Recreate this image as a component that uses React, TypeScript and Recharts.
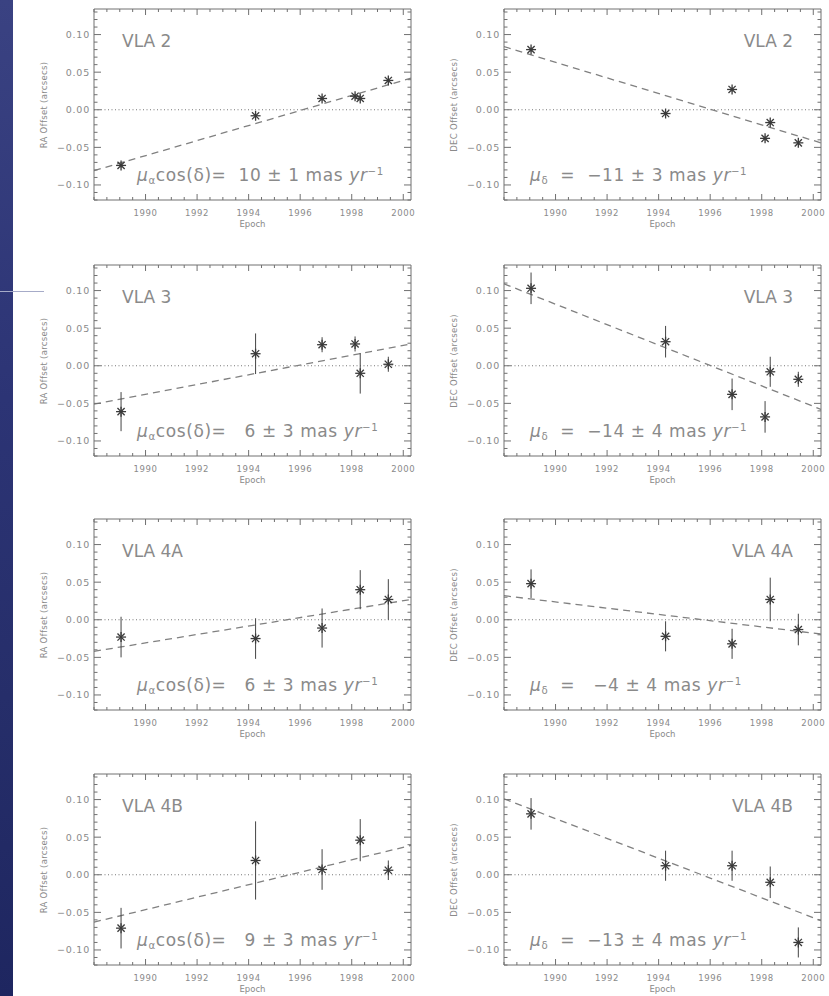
import React from "react";
import { ComposedChart, XAxis, YAxis, Scatter, ErrorBar, Line, ReferenceLine } from "recharts";

// epochs of the VLA observations (years)
const epochs6 = [1989.05, 1994.27, 1996.85, 1998.13, 1998.33, 1999.42];
const epochs5 = [1989.05, 1994.27, 1996.85, 1998.33, 1999.42];

const sources = ["VLA 2", "VLA 3", "VLA 4A", "VLA 4B"];

// RA offsets (arcsec) and 1-sigma errors
const vla2Ra = [-0.074, -0.008, 0.015, 0.018, 0.015, 0.039];
const vla2RaErr = [0.003, 0.003, 0.003, 0.003, 0.003, 0.003];
const vla3Ra = [-0.061, 0.016, 0.028, 0.029, -0.01, 0.002];
const vla3RaErr = [0.026, 0.027, 0.01, 0.01, 0.027, 0.01];
const vla4aRa = [-0.023, -0.025, -0.011, 0.04, 0.027];
const vla4aRaErr = [0.027, 0.027, 0.026, 0.026, 0.027];
const vla4bRa = [-0.071, 0.019, 0.007, 0.046, 0.006];
const vla4bRaErr = [0.027, 0.052, 0.027, 0.028, 0.013];

// DEC offsets (arcsec) and 1-sigma errors
const vla2Dec = [0.08, -0.005, 0.027, -0.038, -0.017, -0.044];
const vla2DecErr = [0.003, 0.003, 0.003, 0.003, 0.003, 0.003];
const vla3Dec = [0.103, 0.032, -0.038, -0.068, -0.008, -0.018];
const vla3DecErr = [0.021, 0.021, 0.021, 0.021, 0.02, 0.01];
const vla4aDec = [0.048, -0.022, -0.032, 0.027, -0.013];
const vla4aDecErr = [0.019, 0.02, 0.02, 0.029, 0.021];
const vla4bDec = [0.081, 0.012, 0.012, -0.01, -0.09];
const vla4bDecErr = [0.021, 0.02, 0.02, 0.021, 0.02];

// fitted proper-motion lines, value at 1988.0 and 2000.3
const fitEpochs = [1988.0, 2000.3];
const fitRa = [[-0.081, 0.042], [-0.051, 0.029], [-0.042, 0.027], [-0.063, 0.039]];
const fitDec = [[0.084, -0.044], [0.109, -0.058], [0.032, -0.019], [0.101, -0.061]];

// proper motions (mas/yr) as printed
const muRa = ["10 ± 1", " 6 ± 3", " 6 ± 3", " 9 ± 3"];
const muDec = ["−11 ± 3", "−14 ± 4", " −4 ± 4", "−13 ± 4"];

// axes
const xDomain = [1988.0, 2000.3];
const yDomain = [-0.12, 0.134];
const xMajor = [1990, 1992, 1994, 1996, 1998, 2000];
const xLabels = ["1990", "1992", "1994", "1996", "1998", "2000"];
const yMajor = [-0.1, -0.05, 0, 0.05, 0.1];
const yLabels = ["−0.10", "−0.05", "0.00", "0.05", "0.10"];

const range = (a: number, b: number, s: number) => {
  const out: number[] = [];
  for (let v = a; v <= b + 1e-9; v += s) out.push(Math.round(v * 1000) / 1000);
  return out;
};
const xMinor = range(1988, 2000, 0.5);
const yMinor = range(-0.12, 0.13, 0.01);

const raSeries = [
  { ep: epochs6, v: vla2Ra, e: vla2RaErr },
  { ep: epochs6, v: vla3Ra, e: vla3RaErr },
  { ep: epochs5, v: vla4aRa, e: vla4aRaErr },
  { ep: epochs5, v: vla4bRa, e: vla4bRaErr },
];
const decSeries = [
  { ep: epochs6, v: vla2Dec, e: vla2DecErr },
  { ep: epochs6, v: vla3Dec, e: vla3DecErr },
  { ep: epochs5, v: vla4aDec, e: vla4aDecErr },
  { ep: epochs5, v: vla4bDec, e: vla4bDecErr },
];

const FONT = "'DejaVu Sans', sans-serif";
const AXIS = "#707070";
const TXT = "#8a8a8a";

const BOX_W = 317;
const BOX_H = 191;
const AXW = 70;
const PADT = 10;
const PADR = 6;
const XAH = 40;
const colLeft = [94, 504];
const rowTop = [9, 265, 519, 774];

const majorIndex = (v: number, majors: number[]) =>
  majors.findIndex((m) => Math.abs(m - v) < 1e-6);

const BottomTick = (p: any) => {
  const { x, y, payload } = p;
  const i = majorIndex(payload.value, xMajor);
  return (
    <g>
      <line x1={x} y1={y} x2={x} y2={y - (i >= 0 ? 6 : 3)} stroke={AXIS} />
      {i >= 0 && (
        <text x={x} y={y + 16} textAnchor="middle" fontSize={8.5} fill={TXT} fontFamily={FONT} letterSpacing={0.6}>
          {xLabels[i]}
        </text>
      )}
    </g>
  );
};
const TopTick = (p: any) => {
  const { x, y, payload } = p;
  const i = majorIndex(payload.value, xMajor);
  return <line x1={x} y1={y} x2={x} y2={y + (i >= 0 ? 6 : 3)} stroke={AXIS} />;
};
const LeftTick = (p: any) => {
  const { x, y, payload } = p;
  const i = majorIndex(payload.value, yMajor);
  return (
    <g>
      <line x1={x} y1={y} x2={x + (i >= 0 ? 7 : 3.5)} y2={y} stroke={AXIS} />
      {i >= 0 && (
        <text x={x - 4} y={y + 3.5} textAnchor="end" fontSize={9.5} fill={TXT} fontFamily={FONT} letterSpacing={0.8}>
          {yLabels[i]}
        </text>
      )}
    </g>
  );
};
const RightTick = (p: any) => {
  const { x, y, payload } = p;
  const i = majorIndex(payload.value, yMajor);
  return <line x1={x} y1={y} x2={x - (i >= 0 ? 7 : 3.5)} y2={y} stroke={AXIS} />;
};

const Star = (p: any) => {
  const { cx, cy } = p;
  const r = 5;
  const d = r * 0.72;
  return (
    <g stroke="#3a3a3a" strokeWidth={1.3}>
      <line x1={cx - r} y1={cy} x2={cx + r} y2={cy} />
      <line x1={cx} y1={cy - r} x2={cx} y2={cy + r} />
      <line x1={cx - d} y1={cy - d} x2={cx + d} y2={cy + d} />
      <line x1={cx - d} y1={cy + d} x2={cx + d} y2={cy - d} />
    </g>
  );
};

const Sub = ({ children }: any) => (
  <span style={{ fontSize: "0.6em", verticalAlign: "-0.25em" }}>{children}</span>
);
const Sup = ({ children }: any) => (
  <span style={{ fontSize: "0.6em", verticalAlign: "0.6em" }}>{children}</span>
);

function Panel({ row, col }: { row: number; col: number }) {
  const s = col === 0 ? raSeries[row] : decSeries[row];
  const f = col === 0 ? fitRa[row] : fitDec[row];
  const pts = s.ep.map((x, i) => ({ x, y: s.v[i], err: s.e[i] }));
  const fit = fitEpochs.map((x, i) => ({ x, y: f[i] }));
  const bx = colLeft[col];
  const by = rowTop[row];

  return (
    <>
      <div style={{ position: "absolute", left: bx - AXW, top: by - PADT }}>
        <ComposedChart
          width={AXW + BOX_W + PADR}
          height={PADT + BOX_H + XAH}
          margin={{ top: PADT - 1, right: PADR - 1, bottom: 0, left: 0 }}
        >
          <XAxis xAxisId="b" dataKey="x" type="number" domain={xDomain} allowDataOverflow ticks={xMinor}
            interval={0} height={XAH} tickSize={0} tickMargin={0} tick={<BottomTick />} tickLine={false}
            axisLine={{ stroke: AXIS }} />
          <XAxis xAxisId="t" dataKey="x" type="number" orientation="top" domain={xDomain} allowDataOverflow
            ticks={xMinor} interval={0} height={1} tickSize={0} tickMargin={0} tick={<TopTick />}
            tickLine={false} axisLine={{ stroke: AXIS }} />
          <YAxis yAxisId="l" type="number" domain={yDomain} allowDataOverflow ticks={yMinor} interval={0}
            width={AXW} tickSize={0} tickMargin={0} tick={<LeftTick />} tickLine={false}
            axisLine={{ stroke: AXIS }} />
          <YAxis yAxisId="r" type="number" orientation="right" domain={yDomain} allowDataOverflow
            ticks={yMinor} interval={0} width={1} tickSize={0} tickMargin={0} tick={<RightTick />}
            tickLine={false} axisLine={{ stroke: AXIS }} />
          <ReferenceLine xAxisId="b" yAxisId="l" y={0} stroke="#777" strokeDasharray="1 2.5" />
          {/* invisible copy of the fit on the top/right axes so those frame axes get drawn */}
          <Line xAxisId="t" yAxisId="r" data={fit} dataKey="y" type="linear" stroke="none"
            dot={false} activeDot={false} isAnimationActive={false} />
          <Line xAxisId="b" yAxisId="l" data={fit} dataKey="y" type="linear" stroke="#808080"
            strokeWidth={1.3} strokeDasharray="7 5" dot={false} activeDot={false} isAnimationActive={false} />
          <Scatter xAxisId="b" yAxisId="l" data={pts} dataKey="y" shape={<Star />} isAnimationActive={false}>
            <ErrorBar dataKey="err" direction="y" width={0} stroke="#444" strokeWidth={1} />
          </Scatter>
        </ComposedChart>
      </div>
      <div
        style={{
          position: "absolute",
          left: bx - 50,
          top: by + BOX_H / 2,
          transform: "translate(-50%, -50%) rotate(-90deg)",
          fontFamily: FONT,
          fontSize: 8.5,
          color: TXT,
          whiteSpace: "nowrap",
          letterSpacing: 0.3,
        }}
      >
        {col === 0 ? "RA Offset (arcsecs)" : "DEC Offset (arcsecs)"}
      </div>
      <div
        style={{
          position: "absolute",
          left: bx + BOX_W / 2 - 40,
          width: 80,
          top: by + BOX_H + 19,
          textAlign: "center",
          fontFamily: FONT,
          fontSize: 8.5,
          lineHeight: "10px",
          color: TXT,
        }}
      >
        Epoch
      </div>
      <div
        style={{
          position: "absolute",
          top: by + 22,
          ...(col === 0 ? { left: bx + 28 } : { left: bx + BOX_W - 228, width: 200, textAlign: "right" as const }),
          fontFamily: FONT,
          fontSize: 17,
          color: TXT,
          whiteSpace: "pre",
          lineHeight: "20px",
        }}
      >
        {sources[row]}
      </div>
      <div
        style={{
          position: "absolute",
          top: by + 152,
          left: col === 0 ? bx + 43 : bx + 26,
          fontFamily: FONT,
          fontSize: 17,
          color: TXT,
          whiteSpace: "pre",
          lineHeight: "22px",
          letterSpacing: 0.6,
        }}
      >
        {col === 0 ? (
          <>
            <i>μ</i>
            <Sub>α</Sub>cos(δ)=  {muRa[row]} mas <i>yr</i>
            <Sup>−1</Sup>
          </>
        ) : (
          <>
            <i>μ</i>
            <Sub>δ</Sub>  =  {muDec[row]} mas <i>yr</i>
            <Sup>−1</Sup>
          </>
        )}
      </div>
    </>
  );
}

export default function App() {
  return (
    <div style={{ position: "absolute", left: 0, top: 0, width: 829, height: 996, background: "#fff", overflow: "hidden" }}>
      <div
        style={{
          position: "absolute",
          left: 0,
          top: 0,
          width: 13,
          height: 996,
          background: "linear-gradient(to bottom, #3a4282, #2c3475 40%, #262e6a 70%, #1e2660)",
        }}
      />
      <div style={{ position: "absolute", left: 0, top: 291, width: 44, height: 1, background: "#a6abc8" }} />
      {sources.map((_, row) =>
        [0, 1].map((col) => <Panel key={`${row}-${col}`} row={row} col={col} />)
      )}
    </div>
  );
}
